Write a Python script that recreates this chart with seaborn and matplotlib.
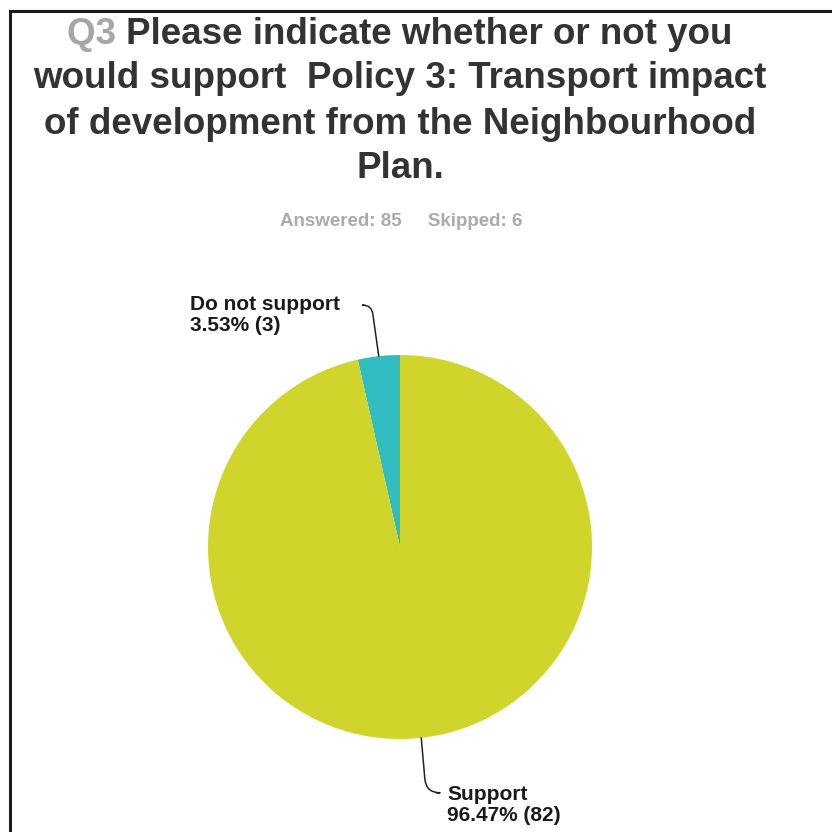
import matplotlib
matplotlib.use("Agg")
import matplotlib.pyplot as plt
import seaborn as sns
import numpy as np
from matplotlib.patches import Rectangle

# Survey responses for Q3
categories = ["Do not support", "Support"]
counts = [3, 82]
percents = [3.53, 96.47]
answered = 85
skipped = 6

title_prefix = "Q3"
title_lines = [
    "Please indicate whether or not you",
    "would support  Policy 3: Transport impact",
    "of development from the Neighbourhood",
    "Plan.",
]

sns.set_theme(style="white")
plt.rcParams["font.family"] = ["Liberation Sans", "DejaVu Sans"]

colors = sns.color_palette(["#31bcc0", "#cfd52b"])

W = H = 832
fig = plt.figure(figsize=(W / 100, H / 100), dpi=100)
fig.patch.set_facecolor("white")

# pie axes: centre (400, 547) px, radius 192 px
cx, cy, r = 400, 547, 192
ax = fig.add_axes([(cx - r) / W, (H - cy - r) / H, 2 * r / W, 2 * r / H])
wedges, _ = ax.pie(counts, colors=colors, startangle=90, counterclock=True,
                   radius=1.0, wedgeprops=dict(linewidth=0))
ax.set_xlim(-1, 1)
ax.set_ylim(-1, 1)
ax.set_aspect("equal")
ax.axis("off")

# outer frame (top and left edges visible)
fig.add_artist(Rectangle((9.5 / W, -0.2), 1.2, 1.2 - 10.5 / H,
                         transform=fig.transFigure, fill=False,
                         edgecolor="#1a1a1a", linewidth=2.2, clip_on=False))

# title
title_color = "#333333"
q_color = "#a6a6a6"
fs_title = 26.5
line_y = [35, 79, 124, 168]
renderer = fig.canvas.get_renderer()
for i, (line, yy) in enumerate(zip(title_lines, line_y)):
    if i == 0:
        t1 = fig.text(0, 1 - yy / H, title_prefix + " ", fontsize=fs_title,
                      fontweight="bold", color=q_color, va="center", ha="left")
        t2 = fig.text(0, 1 - yy / H, line, fontsize=fs_title,
                      fontweight="bold", color=title_color, va="center", ha="left")
        w1 = t1.get_window_extent(renderer).width
        w2 = t2.get_window_extent(renderer).width
        x0 = 400 - (w1 + w2) / 2
        t1.set_x(x0 / W)
        t2.set_x((x0 + w1) / W)
    else:
        fig.text(400 / W, 1 - yy / H, line, fontsize=fs_title, fontweight="bold",
                 color=title_color, va="center", ha="center")

fig.text(401 / W, 1 - 222 / H, f"Answered: {answered}     Skipped: {skipped}",
         fontsize=13.5, fontweight="bold", color="#ababab", ha="center", va="center")

# slice labels with hooked leaders
angles = []
start = 90.0
for c in counts:
    span = 360.0 * c / sum(counts)
    angles.append(np.deg2rad(start + span / 2))
    start += span

label_pos = [(-1.094, 1.315), (0.245, -1.24)]
leader_end = [(-0.19, 1.26), (0.19, -1.28)]
conn = ["angle,angleA=0,angleB=98,rad=9", "angle,angleA=180,angleB=95,rad=14"]
for i, cat in enumerate(categories):
    a = angles[i]
    rim = (np.cos(a), np.sin(a))
    tx, ty = label_pos[i]
    ax.text(tx, ty, f"{cat}\n{percents[i]:.2f}% ({counts[i]})", fontsize=15,
            fontweight="bold", color="#1a1a1a", ha="left", va="top",
            linespacing=1.15, clip_on=False, transform=ax.transData)
    ax.annotate("", xy=rim, xytext=leader_end[i], xycoords="data",
                arrowprops=dict(arrowstyle="-", color="#222222", lw=1.1,
                                connectionstyle=conn[i],
                                shrinkA=0, shrinkB=0),
                annotation_clip=False)

fig.savefig("out.png", dpi=100, facecolor="white")
